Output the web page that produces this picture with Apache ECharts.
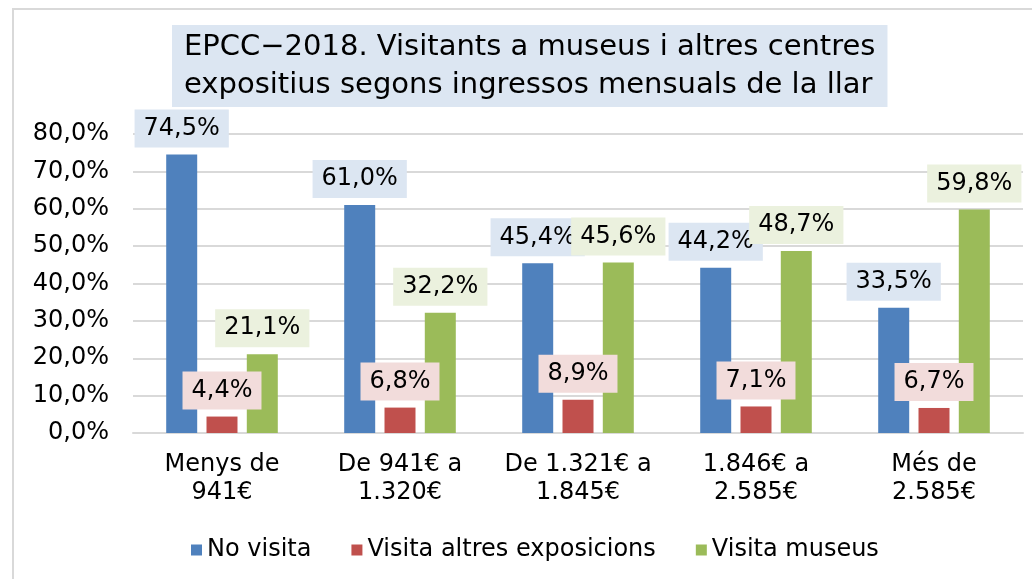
<!DOCTYPE html>
<html>
<head>
<meta charset="utf-8">
<script src="https://cdn.jsdelivr.net/npm/echarts@6/dist/echarts.min.js"></script>
<style>
  html, body { margin: 0; padding: 0; background: #fff; }
  #chart { width: 1032px; height: 579px; }
</style>
</head>
<body>
<div id="chart"></div>
<script>
const categories = ['Menys de\n941€', 'De 941€ a\n1.320€', 'De 1.321€ a\n1.845€', '1.846€ a\n2.585€', 'Més de\n2.585€']
const noVisita = [74.5, 61.0, 45.4, 44.2, 33.5]
const altresExpo = [4.4, 6.8, 8.9, 7.1, 6.7]
const museus = [21.1, 32.2, 45.6, 48.7, 59.8]
const seriesNames = ['No visita', 'Visita altres exposicions', 'Visita museus']

const FONT = 'DejaVu Sans, Verdana, sans-serif'
const fmt = v => v.toFixed(1).replace('.', ',') + '%'

const myChart = echarts.init(document.getElementById('chart'))

function barSeries(name, data, color, labelBg) {
	return {
		name: name,
		type: 'bar',
		data: data,
		barWidth: 31,
		barGap: '30%',
		itemStyle: { color: color },
		label: {
			show: true,
			position: 'top',
			distance: 7,
			formatter: p => fmt(p.value),
			fontFamily: FONT,
			fontSize: 24,
			color: '#000',
			backgroundColor: labelBg,
			padding: [6, 9, 6, 9],
			lineHeight: 26,
		},
	}
}

const option = {
	backgroundColor: '#fff',
	textStyle: { fontFamily: FONT },
	title: {
		text: 'EPCC\u22122018. Visitants a museus i altres centres\nexpositius segons ingressos mensuals de la llar',
		left: 172,
		top: 25,
		backgroundColor: '#DCE6F2',
		padding: [3, 12, 3, 12],
		textStyle: {
			fontFamily: FONT,
			fontSize: 29,
			fontWeight: 'normal',
			color: '#000',
			lineHeight: 38,
			align: 'center',
		},
	},
	graphic: [
		{
			type: 'rect',
			shape: { x: 13, y: 9, width: 1100, height: 700 },
			style: { fill: 'none', stroke: '#D9D9D9', lineWidth: 2 },
			silent: true,
		},
	],
	legend: {
		data: seriesNames,
		left: 186,
		top: 533,
		icon: 'rect',
		itemWidth: 11,
		itemHeight: 11,
		itemGap: 40,
		textStyle: { fontFamily: FONT, fontSize: 24, color: '#000' },
	},
	grid: {
		left: 133,
		right: 9,
		top: 134,
		bottom: 146,
	},
	xAxis: {
		type: 'category',
		data: categories,
		axisLine: { lineStyle: { color: '#D9D9D9', width: 2 } },
		axisTick: { show: false },
		axisLabel: {
			color: '#000',
			fontFamily: FONT,
			fontSize: 24,
			lineHeight: 28,
			margin: 18,
			interval: 0,
		},
	},
	yAxis: {
		type: 'value',
		min: 0,
		max: 80,
		interval: 10,
		axisLine: { show: false },
		axisTick: { show: false },
		axisLabel: {
			color: '#000',
			fontFamily: FONT,
			fontSize: 24,
			margin: 24,
			formatter: v => fmt(v),
		},
		splitLine: { lineStyle: { color: '#D9D9D9', width: 2 } },
	},
	series: [
		barSeries(seriesNames[0], noVisita, '#4F81BD', '#DCE6F2'),
		barSeries(seriesNames[1], altresExpo, '#C0504D', '#F2DCDB'),
		barSeries(seriesNames[2], museus, '#9BBB59', '#EBF1DE'),
	],
}

myChart.setOption(option)
</script>
</body>
</html>
